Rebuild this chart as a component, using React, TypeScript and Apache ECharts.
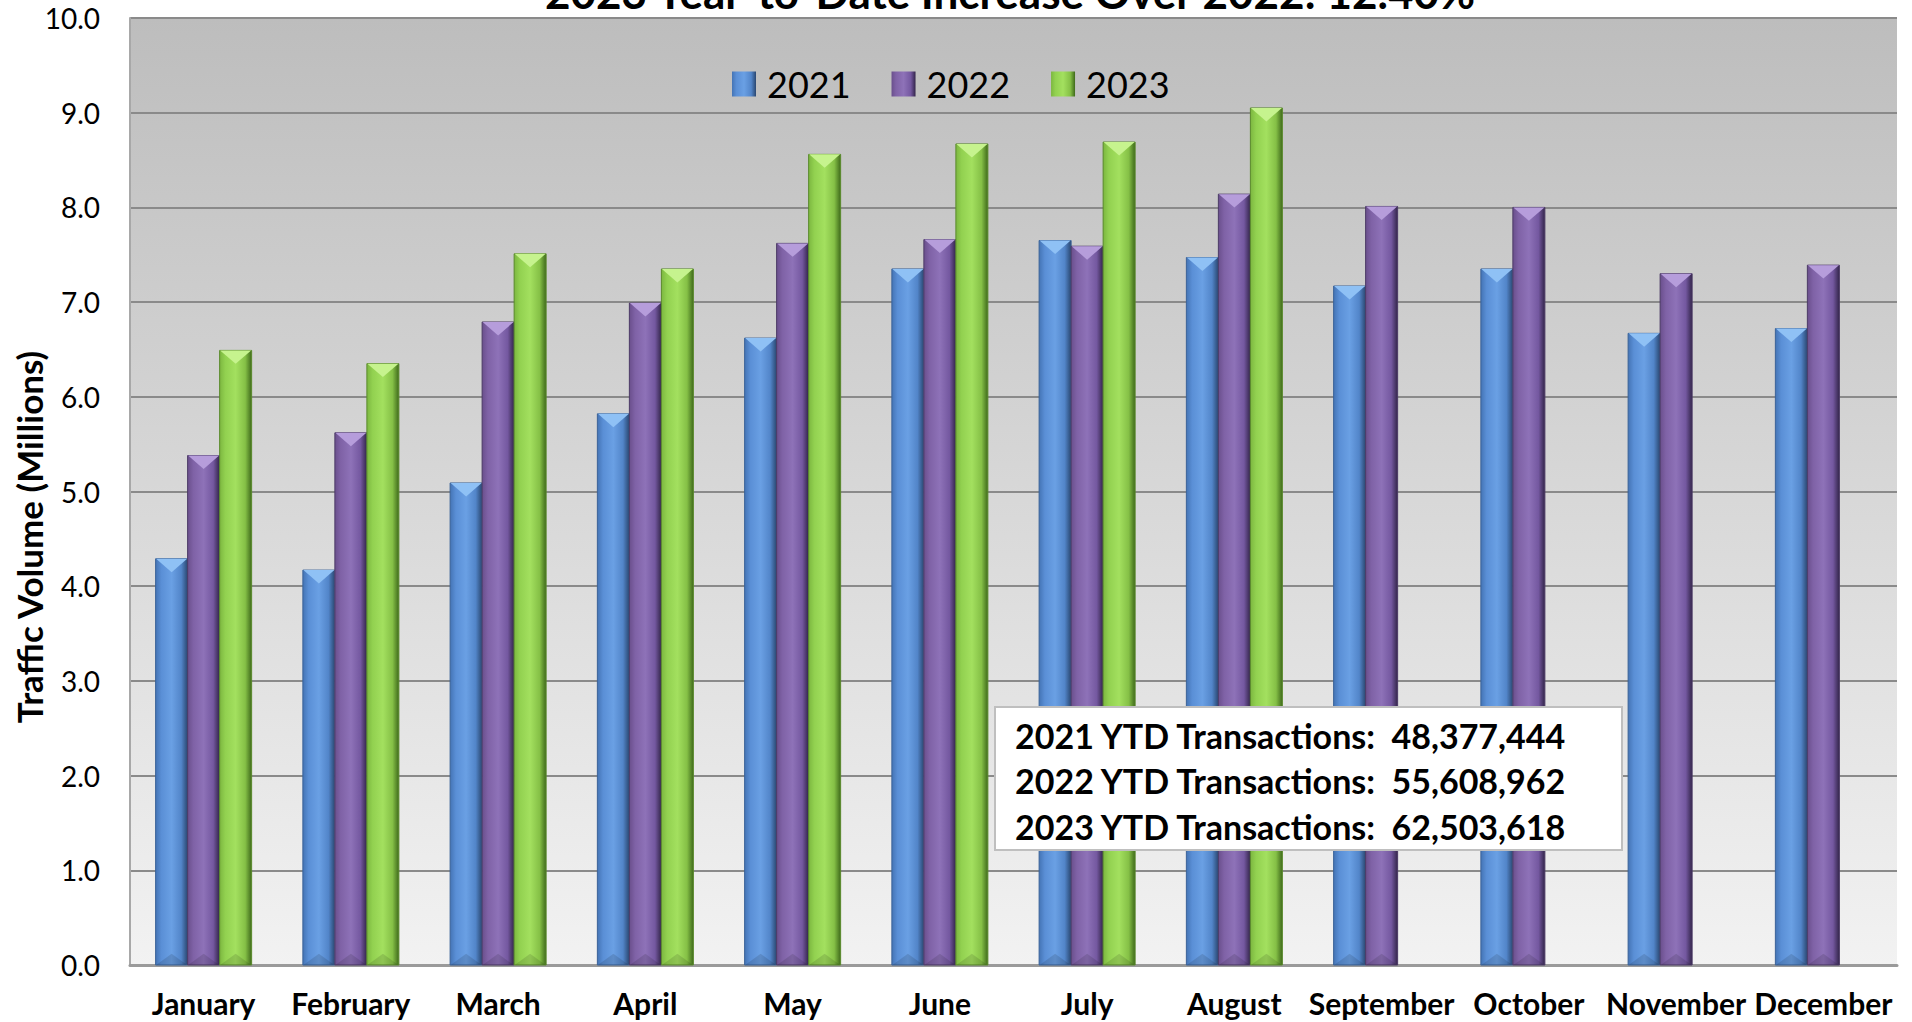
import React, { useEffect, useRef } from "react";
import * as echarts from "echarts";

const months = ["January", "February", "March", "April", "May", "June", "July", "August", "September", "October", "November", "December"];
const seriesNames = ["2021", "2022", "2023"];
const vol2021 = [4.29, 4.17, 5.09, 5.82, 6.62, 7.35, 7.65, 7.47, 7.17, 7.35, 6.67, 6.72];
const vol2022 = [5.38, 5.62, 6.79, 6.99, 7.62, 7.66, 7.59, 8.14, 8.01, 8.0, 7.3, 7.39];
const vol2023 = [6.49, 6.35, 7.51, 7.35, 8.56, 8.67, 8.69, 9.05, null, null, null, null];
const ytdLines = [
  "2021 YTD Transactions:  48,377,444",
  "2022 YTD Transactions:  55,608,962",
  "2023 YTD Transactions:  62,503,618",
];
const titleText = "2023 Year-to-Date Increase Over 2022: 12.40%";
const yAxisTitle = "Traffic Volume (Millions)";

const palettes = [
  { stops: ["#4474b5", "#5a8fd6", "#6aa0e4", "#5285c9", "#2a4770"], top: "#8fc1f5", edge: "#3a6298" },
  { stops: ["#6a4f8c", "#7f62a6", "#8e72b8", "#7458a0", "#33254a"], top: "#b69ddb", edge: "#4c3a66" },
  { stops: ["#7cb740", "#92d150", "#a3e05f", "#85c046", "#3f6a1b"], top: "#c6f38e", edge: "#5a8a2c" },
];

const grad = (s: string[]) =>
  new echarts.graphic.LinearGradient(0, 0, 1, 0, [
    { offset: 0, color: s[0] },
    { offset: 0.18, color: s[1] },
    { offset: 0.5, color: s[2] },
    { offset: 0.8, color: s[3] },
    { offset: 1, color: s[4] },
  ]);

const renderBar = (params: any, api: any) => {
  const v = api.value(1);
  if (v === null || v === undefined || isNaN(v)) return null;
  const i = api.value(0);
  const topPt = api.coord([i, v]);
  const basePt = api.coord([i, 0]);
  const band = api.size([1, 0])[0];
  const groupW = band * 0.652;
  const bw = groupW / 3;
  const x0 = basePt[0] - groupW / 2 + params.seriesIndex * bw;
  const x1 = x0 + bw;
  const xc = (x0 + x1) / 2;
  const h = basePt[1] - topPt[1];
  const p = palettes[params.seriesIndex];
  return {
    type: "group",
    children: [
      {
        type: "rect",
        shape: { x: x0, y: topPt[1], width: bw, height: h },
        style: { fill: grad(p.stops), stroke: p.edge, lineWidth: 1 },
      },
      {
        type: "polygon",
        shape: { points: [[x0 + 0.5, topPt[1]], [x1 - 0.5, topPt[1]], [xc, topPt[1] + bw * 0.42]] },
        style: { fill: p.top },
      },
      {
        type: "polygon",
        shape: { points: [[x0 + 0.5, basePt[1]], [x1 - 0.5, basePt[1]], [xc, basePt[1] - bw * 0.35]] },
        style: { fill: "rgba(0,0,0,0.12)" },
      },
    ],
  };
};

const toData = (arr: (number | null)[]) => arr.map((v, i) => [i, v === null ? NaN : v]);

export default function App() {
  const ref = useRef<HTMLDivElement>(null);
  useEffect(() => {
    if (!ref.current) return;
    const chart = echarts.init(ref.current, undefined, { renderer: "svg" });
    const allData = [vol2021, vol2022, vol2023];
    chart.setOption({
      animation: false,
      backgroundColor: "#ffffff",
      textStyle: { fontFamily: "Lato" },
      grid: {
        left: 130,
        right: 15,
        top: 18,
        bottom: 57,
        show: true,
        borderWidth: 0,
        backgroundColor: new echarts.graphic.LinearGradient(0, 0, 0, 1, [
          { offset: 0, color: "#bdbdbd" },
          { offset: 1, color: "#f2f2f2" },
        ]),
      },
      legend: {
        data: seriesNames,
        left: 732,
        top: 66,
        padding: 0,
        icon: "rect",
        itemWidth: 24,
        itemHeight: 25,
        itemGap: 41,
        textStyle: { fontSize: 36, lineHeight: 36, fontFamily: "Lato", color: "#000", padding: [0, 0, 0, 6] },
      },
      xAxis: {
        type: "category",
        data: months,
        axisLine: { show: true, lineStyle: { color: "#9a9a9a", width: 3 } },
        axisTick: { show: false },
        axisLabel: {
          interval: 0,
          margin: 23,
          fontSize: 30,
          lineHeight: 30,
          fontWeight: "bold",
          fontFamily: "Lato",
          color: "#000",
        },
        splitLine: { show: false },
      },
      yAxis: {
        type: "value",
        min: 0,
        max: 10,
        interval: 1,
        axisLine: { show: true, lineStyle: { color: "#a8a8a8", width: 2 } },
        axisTick: { show: false },
        axisLabel: {
          margin: 30,
          fontSize: 28,
          fontFamily: "Lato",
          color: "#000",
          formatter: (v: number) => v.toFixed(1),
        },
        splitLine: { show: true, lineStyle: { color: "#8a8a8a", width: 2 } },
      },
      series: seriesNames.map((name, k) => ({
        name,
        type: "custom",
        renderItem: renderBar,
        encode: { x: 0, y: 1 },
        itemStyle: { color: grad(palettes[k].stops) },
        data: toData(allData[k]),
        z: 3,
      })),
      graphic: [
        {
          type: "text",
          x: 1010,
          y: -8,
          z: 100,
          style: {
            text: titleText,
            fontSize: 44,
            fontWeight: "bold",
            fontFamily: "Lato",
            fill: "#000",
            align: "center",
            verticalAlign: "middle",
          },
        },
        {
          type: "text",
          x: 29,
          y: 537,
          rotation: Math.PI / 2,
          z: 100,
          style: {
            text: yAxisTitle,
            fontSize: 35,
            fontWeight: "bold",
            fontFamily: "Lato",
            fill: "#000",
            align: "center",
            verticalAlign: "middle",
          },
        },
        {
          type: "rect",
          z: 100,
          shape: { x: 995, y: 707, width: 627, height: 143 },
          style: { fill: "#ffffff", stroke: "#bfbfbf", lineWidth: 2 },
        },
        ...ytdLines.map((t, k) => ({
          type: "text",
          x: 1015,
          y: 735 + k * 45.5,
          z: 101,
          style: {
            text: t,
            fontSize: 34,
            fontWeight: "bold",
            fontFamily: "Lato",
            fill: "#000",
            align: "left",
            verticalAlign: "middle",
          },
        })),
      ],
    });
    return () => chart.dispose();
  }, []);
  return (
    <div
      ref={ref}
      style={{ position: "fixed", left: 0, top: 0, width: "1912px", height: "1022px" }}
    />
  );
}
